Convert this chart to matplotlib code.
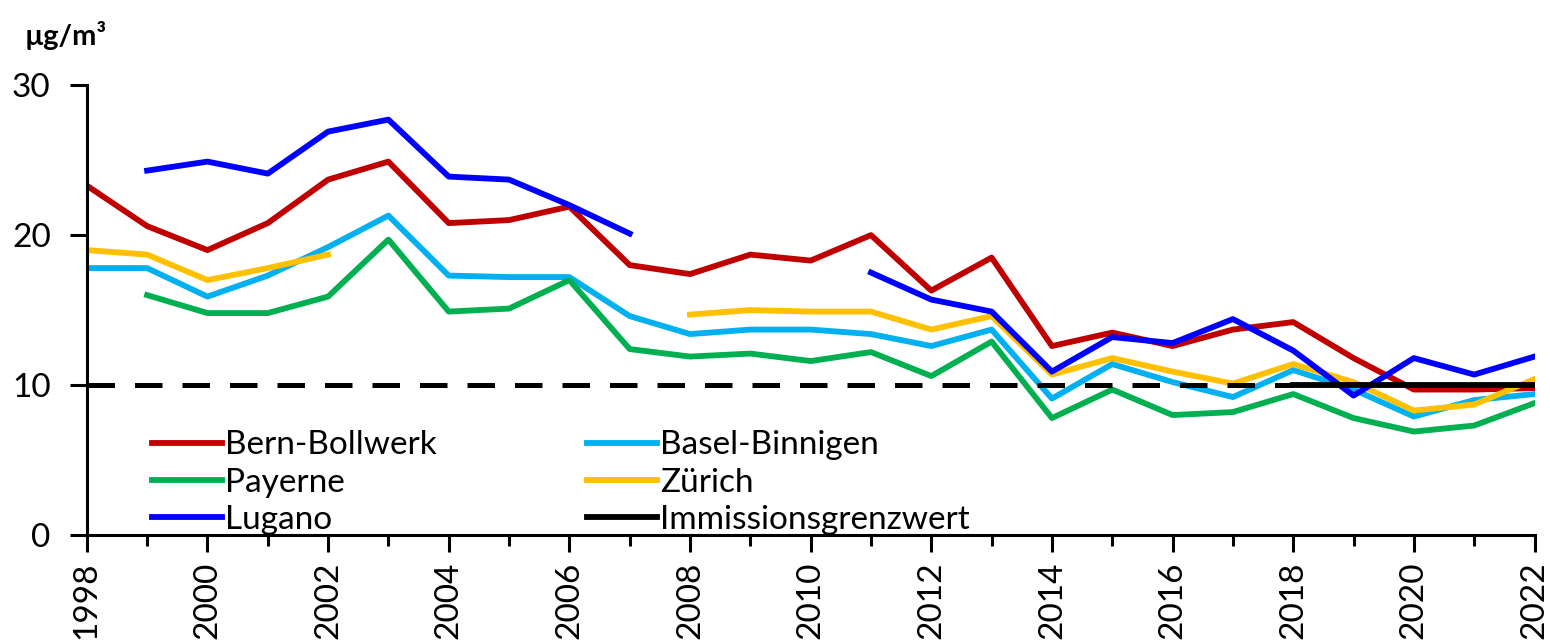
import numpy as np
import matplotlib
matplotlib.use("Agg")
import matplotlib.pyplot as plt
from matplotlib.ticker import MultipleLocator

plt.rcParams['font.family'] = ['Lato', 'DejaVu Sans']

nan = np.nan
years = list(range(1998, 2023))

bern = [23.3, 20.6, 19.0, 20.8, 23.7, 24.9, 20.8, 21.0, 21.9, 18.0, 17.4, 18.7, 18.3,
        20.0, 16.3, 18.5, 12.6, 13.5, 12.6, 13.7, 14.2, 11.8, 9.7, 9.7, 9.8]
basel = [17.8, 17.8, 15.9, 17.3, 19.2, 21.3, 17.3, 17.2, 17.2, 14.6, 13.4, 13.7, 13.7,
         13.4, 12.6, 13.7, 9.1, 11.4, 10.2, 9.2, 11.0, 9.7, 7.9, 9.0, 9.4]
payerne = [nan, 16.0, 14.8, 14.8, 15.9, 19.7, 14.9, 15.1, 17.0, 12.4, 11.9, 12.1, 11.6,
           12.2, 10.6, 12.9, 7.8, 9.7, 8.0, 8.2, 9.4, 7.8, 6.9, 7.3, 8.8]
zurich = [19.0, 18.7, 17.0, 17.8, 18.7, nan, nan, nan, nan, nan, 14.7, 15.0, 14.9,
          14.9, 13.7, 14.6, 10.7, 11.8, 10.9, 10.1, 11.4, 10.2, 8.3, 8.7, 10.4]
lugano = [nan, 24.3, 24.9, 24.1, 26.9, 27.7, 23.9, 23.7, 22.0, 20.1, nan, nan, nan,
          17.5, 15.7, 14.9, 10.9, 13.2, 12.8, 14.4, 12.3, 9.3, 11.8, 10.7, 11.9]

limit_value = 10
limit_dashed_years = [1998, 2018]
limit_solid_years = [2018, 2022]

fig = plt.figure(figsize=(15.5, 6.4), dpi=100)
ax = fig.add_axes([0.056, 0.164, 0.934, 0.703])

lw = 4.2
ax.plot(years, bern, color="#C00000", lw=lw, label="Bern-Bollwerk", solid_joinstyle="round")
ax.plot(years, basel, color="#00B0F0", lw=lw, label="Basel-Binnigen", solid_joinstyle="round")
ax.plot(years, payerne, color="#00B050", lw=lw, label="Payerne", solid_joinstyle="round")
ax.plot(years, zurich, color="#FFC000", lw=lw, label="Zürich", solid_joinstyle="round")
ax.plot(years, lugano, color="#0000FF", lw=lw, label="Lugano", solid_joinstyle="round")
ax.plot(limit_dashed_years, [limit_value] * 2, color="black", lw=3.6, dashes=(5.5, 4))
ax.plot(limit_solid_years, [limit_value] * 2, color="black", lw=lw, label="Immissionsgrenzwert")

ax.set_xlim(1998, 2022)
ax.set_ylim(0, 30)
ax.set_yticks([0, 10, 20, 30])
ax.xaxis.set_major_locator(MultipleLocator(2))
ax.xaxis.set_minor_locator(MultipleLocator(1))
ax.tick_params(axis="x", which="major", direction="out", length=12, width=2.2, labelsize=24,
               labelrotation=90, pad=7)
ax.tick_params(axis="x", which="minor", direction="out", length=8, width=2.2)
ax.tick_params(axis="y", direction="out", length=12, width=2.2, labelsize=24, pad=14)
for s in ["top", "right"]:
    ax.spines[s].set_visible(False)
for s in ["left", "bottom"]:
    ax.spines[s].set_linewidth(2.2)

h, l = ax.get_legend_handles_labels()
order = [0, 2, 4, 1, 3, 5]
ax.legend([h[i] for i in order], [l[i] for i in order], ncol=2, frameon=False,
          loc="lower left", bbox_to_anchor=(0.045, 0.0), fontsize=24,
          handlelength=2.1, handletextpad=0.1, columnspacing=4.5, labelspacing=0.22,
          borderpad=0, borderaxespad=0)

fig.text(0.016, 0.945, "µg/m³", fontsize=21, fontweight="bold", ha="left", va="center")

fig.savefig("out.png", dpi=100)
